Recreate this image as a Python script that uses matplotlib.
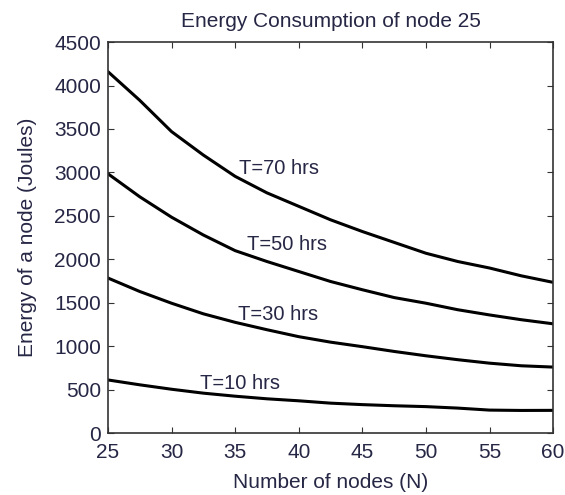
import numpy as np
import matplotlib.pyplot as plt

plt.rcParams['font.family'] = ['Liberation Sans', 'DejaVu Sans']

# values
nodes = [25, 27.5, 30, 32.5, 35, 37.5, 40, 42.5, 45, 47.5, 50, 52.5, 55, 57.5, 60]
e_t70 = [4160, 3830, 3470, 3200, 2955, 2765, 2610, 2455, 2320, 2195, 2070, 1975, 1900, 1810, 1735]
e_t50 = [2985, 2720, 2485, 2280, 2100, 1975, 1860, 1745, 1650, 1560, 1495, 1420, 1360, 1305, 1258]
e_t30 = [1785, 1630, 1495, 1373, 1275, 1190, 1110, 1047, 995, 940, 890, 845, 805, 775, 760]
e_t10 = [612, 556, 505, 460, 425, 395, 372, 345, 328, 315, 305, 288, 265, 261, 262]

series = [e_t70, e_t50, e_t30, e_t10]
labels = ["T=70 hrs", "T=50 hrs", "T=30 hrs", "T=10 hrs"]
label_pos = [(35.3, 3050), (35.9, 2170), (35.2, 1370), (32.2, 575)]

txt = '#262645'

fig = plt.figure(figsize=(5.65, 4.95), dpi=100)
ax = fig.add_axes([0.191, 0.125, 0.788, 0.790])

for ys, lab, (lx, ly) in zip(series, labels, label_pos):
    ax.plot(nodes, ys, color='black', lw=2.2)
    ax.text(lx, ly, lab, fontsize=14.5, color=txt, va='center', ha='left')

ax.set_xlim(25, 60)
ax.set_ylim(0, 4500)
ax.set_xticks(np.arange(25, 61, 5))
ax.set_yticks(np.arange(0, 4501, 500))
ax.tick_params(direction='in', length=4, top=True, right=True,
               labelsize=15, labelcolor=txt, color='#333333')
ax.tick_params(axis='x', pad=7)
ax.tick_params(axis='y', pad=5)
for sp in ax.spines.values():
    sp.set_color('#333333')
    sp.set_linewidth(1.2)

ax.set_title("Energy Consumption of node 25", fontsize=15, color=txt, pad=11)
ax.set_xlabel("Number of nodes (N)", fontsize=15, color=txt, labelpad=8)
ax.set_ylabel("Energy of a node (Joules)", fontsize=15, color=txt, labelpad=12)

fig.savefig("out.png", dpi=100)
